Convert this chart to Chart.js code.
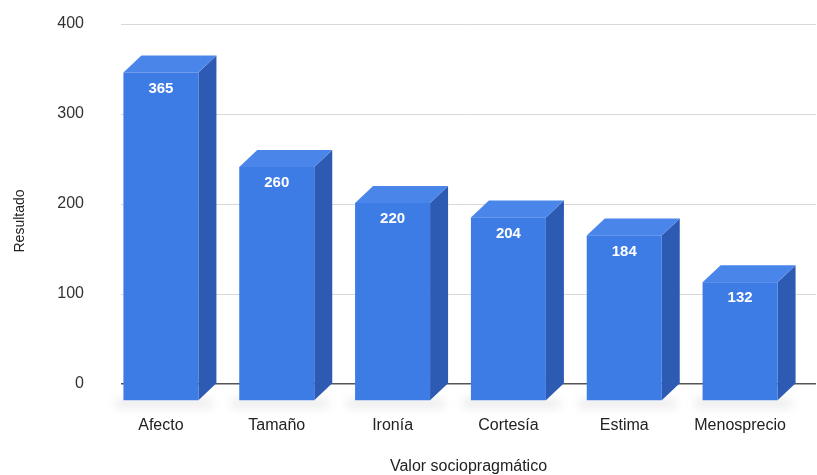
<!DOCTYPE html>
<html lang="es">
<head>
    <meta charset="UTF-8">
    <title>Valor sociopragmático</title>
    <script src="https://cdn.jsdelivr.net/npm/chart.js"></script>
    <style>
        html, body { margin: 0; padding: 0; background: #ffffff; }
        #wrap { width: 817px; height: 475px; }
    </style>
</head>
<body>
    <div id="wrap"><canvas id="chart"></canvas></div>
    <script>
        const categories = ["Afecto", "Tamaño", "Ironía", "Cortesía", "Estima", "Menosprecio"];
        const values = [365, 260, 220, 204, 184, 132];
        const yTicks = [0, 100, 200, 300, 400];

        // depth of the 3D box: front face is shifted left/down from the back plane
        const DX = 18, DY = 17;
        const FAMILY = "'Liberation Sans', Arial, sans-serif";

        const bars3d = {
            id: "bars3d",
            afterDatasetsDraw(chart) {
                const ctx = chart.ctx;
                const meta = chart.getDatasetMeta(0);
                meta.data.forEach((bar, i) => {
                    const w = bar.width;
                    const l = bar.x - w / 2, r = bar.x + w / 2;
                    const top = bar.y, base = bar.base;
                    ctx.save();
                    // soft shadow on the floor
                    ctx.fillStyle = "rgba(0,0,0,0.07)";
                    ctx.filter = "blur(5px)";
                    ctx.fillRect(l - DX - 8, base + DY - 2, w + DX + 4, 10);
                    ctx.filter = "none";
                    // right side
                    ctx.fillStyle = "#2d5bb3";
                    ctx.beginPath();
                    ctx.moveTo(r - DX, top + DY);
                    ctx.lineTo(r, top);
                    ctx.lineTo(r, base);
                    ctx.lineTo(r - DX, base + DY);
                    ctx.closePath();
                    ctx.fill();
                    // top
                    ctx.fillStyle = "#4a86ea";
                    ctx.beginPath();
                    ctx.moveTo(l - DX, top + DY);
                    ctx.lineTo(l, top);
                    ctx.lineTo(r, top);
                    ctx.lineTo(r - DX, top + DY);
                    ctx.closePath();
                    ctx.fill();
                    // front
                    ctx.fillStyle = "#3d7be5";
                    ctx.fillRect(l - DX, top + DY, w, base - top);
                    // value label
                    ctx.fillStyle = "#ffffff";
                    ctx.font = "bold 15px " + FAMILY;
                    ctx.textAlign = "center";
                    ctx.textBaseline = "middle";
                    ctx.fillText(String(values[i]), bar.x - DX, top + DY + 16);
                    ctx.restore();
                });
                // y axis title
                ctx.save();
                ctx.fillStyle = "#222";
                ctx.font = "14px " + FAMILY;
                ctx.textAlign = "center";
                ctx.textBaseline = "middle";
                ctx.translate(20, 221);
                ctx.rotate(-Math.PI / 2);
                ctx.fillText("Resultado", 0, 0);
                ctx.restore();
            }
        };

        const font = { family: FAMILY, size: 16 };

        new Chart(document.getElementById("chart"), {
            type: "bar",
            data: {
                labels: categories,
                datasets: [{
                    data: values,
                    backgroundColor: "rgba(0,0,0,0)",
                    borderWidth: 0,
                    barThickness: 75
                }]
            },
            options: {
                responsive: true,
                maintainAspectRatio: false,
                animation: false,
                events: [],
                layout: { padding: { top: 24, right: 1, left: 0, bottom: 0 } },
                plugins: { legend: { display: false }, tooltip: { enabled: false } },
                scales: {
                    x: {
                        grid: { display: false, drawTicks: false },
                        border: { display: false },
                        ticks: { color: "#222", font, padding: 32, maxRotation: 0, labelOffset: -18 },
                        title: { display: true, text: "Valor sociopragmático", color: "#222", font, padding: { top: 0, bottom: -1 } },
                        afterFit(scale) {
                            scale.height = 91;
                            scale.paddingLeft = 0;
                            scale.paddingRight = 0;
                        }
                    },
                    y: {
                        min: 0,
                        max: 400,
                        afterBuildTicks(scale) { scale.ticks = yTicks.map(v => ({ value: v })); },
                        grid: {
                            drawTicks: false,
                            color: ctx => ctx.tick && ctx.tick.value === 0 ? "#555" : "#d8d8d8",
                            lineWidth: ctx => ctx.tick && ctx.tick.value === 0 ? 1.5 : 1
                        },
                        border: { display: false },
                        ticks: { color: "#333", font, padding: 37 },
                        afterFit(scale) {
                            scale.width = 121;
                            scale.paddingTop = 0;
                            scale.paddingBottom = 0;
                        }
                    }
                }
            },
            plugins: [bars3d]
        });
    </script>
</body>
</html>
